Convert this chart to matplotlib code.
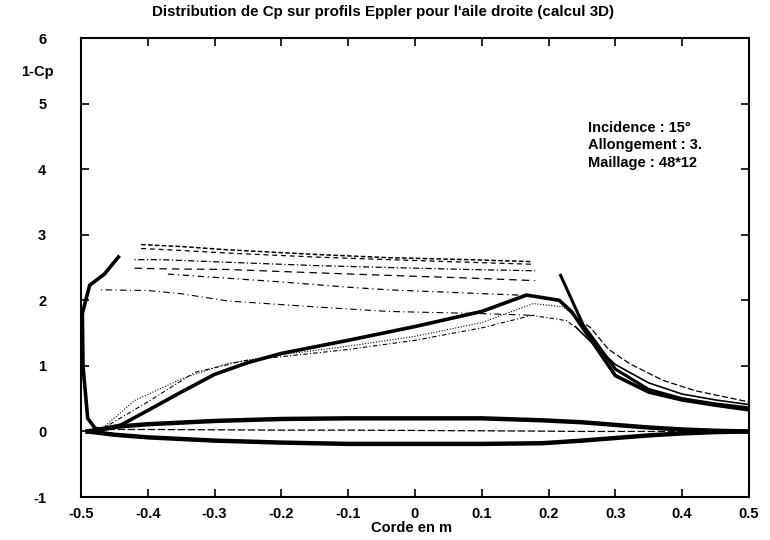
import matplotlib.pyplot as plt
import numpy as np

plt.rcParams['font.family'] = ['Liberation Sans', 'DejaVu Sans']
plt.rcParams['font.weight'] = 'bold'
plt.rcParams['axes.unicode_minus'] = False

# upper surface (suction side) curves, one per span station
up1_x = [-0.41, -0.35, -0.28, -0.15, -0.04, 0.08, 0.175]
up1_y = [2.85, 2.82, 2.77, 2.7, 2.65, 2.62, 2.59]
up2_x = [-0.41, -0.35, -0.28, -0.15, -0.04, 0.08, 0.175]
up2_y = [2.79, 2.76, 2.72, 2.66, 2.62, 2.58, 2.55]
up3_x = [-0.42, -0.38, -0.28, -0.15, -0.04, 0.08, 0.18]
up3_y = [2.62, 2.62, 2.58, 2.53, 2.5, 2.47, 2.45]
up4_x = [-0.42, -0.38, -0.28, -0.15, -0.04, 0.08, 0.18]
up4_y = [2.49, 2.48, 2.47, 2.42, 2.38, 2.34, 2.3]
up5_x = [-0.37, -0.3, -0.2, -0.1, -0.04, 0.08, 0.18]
up5_y = [2.4, 2.35, 2.28, 2.2, 2.16, 2.11, 2.07]
up6_x = [-0.47, -0.4, -0.35, -0.28, -0.15, -0.04, 0.09, 0.18]
up6_y = [2.16, 2.15, 2.1, 1.99, 1.9, 1.83, 1.8, 1.77]

# lower surface + leading edge spike (root station, solid)
r1_x = [-0.444, -0.465, -0.487, -0.498, -0.497, -0.49, -0.479, -0.47, -0.44, -0.4,
        -0.35, -0.3, -0.25, -0.2, -0.1, 0.0, 0.1, 0.167, 0.216, 0.235, 0.26,
        0.3, 0.35, 0.4, 0.45, 0.5]
r1_y = [2.66, 2.4, 2.23, 1.8, 1.0, 0.2, 0.05, 0.02, 0.1, 0.32,
        0.6, 0.87, 1.05, 1.19, 1.39, 1.6, 1.83, 2.08, 2.0, 1.82, 1.45,
        0.85, 0.6, 0.48, 0.4, 0.33]
r2_x = [-0.47, -0.42, -0.35, -0.28, -0.2, -0.1, 0.0, 0.1, 0.177, 0.222, 0.24]
r2_y = [0.03, 0.47, 0.8, 1.04, 1.17, 1.3, 1.45, 1.66, 1.95, 1.9, 1.75]
r3_x = [-0.47, -0.4, -0.33, -0.255, -0.2, -0.1, 0.0, 0.1, 0.175, 0.227, 0.245]
r3_y = [0.03, 0.45, 0.9, 1.08, 1.14, 1.25, 1.39, 1.58, 1.77, 1.69, 1.55]

# trailing edge recovery
d_x = [0.218, 0.235, 0.252, 0.275, 0.3, 0.35, 0.4, 0.45, 0.5]
d_y = [2.38, 2.0, 1.62, 1.3, 0.95, 0.64, 0.5, 0.42, 0.36]
t3_x = [0.245, 0.262, 0.29, 0.322, 0.371, 0.42, 0.5]
t3_y = [1.7, 1.59, 1.25, 1.03, 0.78, 0.62, 0.45]
t4_x = [0.24, 0.27, 0.3, 0.35, 0.4, 0.45, 0.5]
t4_y = [1.6, 1.3, 1.02, 0.74, 0.57, 0.48, 0.41]

# profile lens near zero
lens_x = [-0.49, -0.45, -0.4, -0.3, -0.2, -0.1, 0.0, 0.1, 0.19, 0.25, 0.3, 0.35, 0.4, 0.45, 0.5]
lens_up = [0.0, 0.07, 0.11, 0.16, 0.19, 0.2, 0.2, 0.2, 0.17, 0.14, 0.1, 0.06, 0.03, 0.01, 0.0]
lens_lo = [0.0, -0.05, -0.09, -0.14, -0.17, -0.19, -0.19, -0.19, -0.18, -0.14, -0.1, -0.06, -0.03, -0.01, 0.0]
mid_y = [0.02, 0.03, 0.03, 0.025, 0.02, 0.02, 0.015, 0.01, 0.005, 0.0, 0.0, 0.0, 0.0, 0.0, 0.0]

fig = plt.figure(figsize=(7.7, 5.4), dpi=100)
ax = fig.add_axes([0.1052, 0.0796, 0.8675, 0.85])

k = 'black'
ax.plot(up1_x, up1_y, color=k, lw=1.1, ls=(0, (3, 1.5)))
ax.plot(up2_x, up2_y, color=k, lw=0.9, ls=(0, (4, 3)))
ax.plot(up3_x, up3_y, color=k, lw=0.9, ls=(0, (1, 2, 5, 2)))
ax.plot(up4_x, up4_y, color=k, lw=0.9, ls=(0, (6, 4)))
ax.plot(up5_x, up5_y, color=k, lw=0.9, ls=(0, (5, 3, 1, 3)))
ax.plot(up6_x, up6_y, color=k, lw=0.8, ls=(0, (1, 3, 6, 3)))

ax.plot(r1_x, r1_y, color=k, lw=2.6, solid_joinstyle='round')
ax.plot(r2_x, r2_y, color=k, lw=0.8, ls=(0, (1, 1.5)))
ax.plot(r3_x, r3_y, color=k, lw=0.8, ls=(0, (4, 2, 1, 2)))

ax.plot(d_x, d_y, color=k, lw=2.2)
ax.plot(t3_x, t3_y, color=k, lw=0.9, ls=(0, (5, 2)))
ax.plot(t4_x, t4_y, color=k, lw=1.2)

ax.plot(lens_x, lens_up, color=k, lw=3.2)
ax.plot(lens_x, lens_lo, color=k, lw=3.2)
ax.plot(lens_x, mid_y, color=k, lw=0.9, ls=(0, (6, 2)))

ax.set_xlim(-0.5, 0.5)
ax.set_ylim(-1, 6)
ax.set_xticks(np.arange(-0.5, 0.51, 0.1))
ax.set_yticks(range(-1, 7))
ax.set_xticklabels(['-0.5', '-0.4', '-0.3', '-0.2', '-0.1', '0', '0.1', '0.2', '0.3', '0.4', '0.5'])
ax.tick_params(direction='in', length=6, width=1.2, top=True, right=True, labelsize=10.5)
ax.tick_params(axis='y', pad=25)
ax.tick_params(axis='x', pad=7)
for s in ax.spines.values():
    s.set_linewidth(1.5)

fig.text(0.497, 0.978, "Distribution de Cp sur profils Eppler pour l'aile droite (calcul 3D)",
         ha='center', va='center', fontsize=10.9)
fig.text(0.028, 0.867, '1-Cp', ha='left', va='center', fontsize=10.5)
fig.text(0.534, 0.022, 'Corde en m', ha='center', va='center', fontsize=10.5)

ax.text(0.759, 0.804, 'Incidence : 15°', transform=ax.transAxes, va='center', fontsize=10.5)
ax.text(0.759, 0.767, 'Allongement : 3.', transform=ax.transAxes, va='center', fontsize=10.5)
ax.text(0.759, 0.728, 'Maillage : 48*12', transform=ax.transAxes, va='center', fontsize=10.5)

fig.savefig('out.png', dpi=100)
